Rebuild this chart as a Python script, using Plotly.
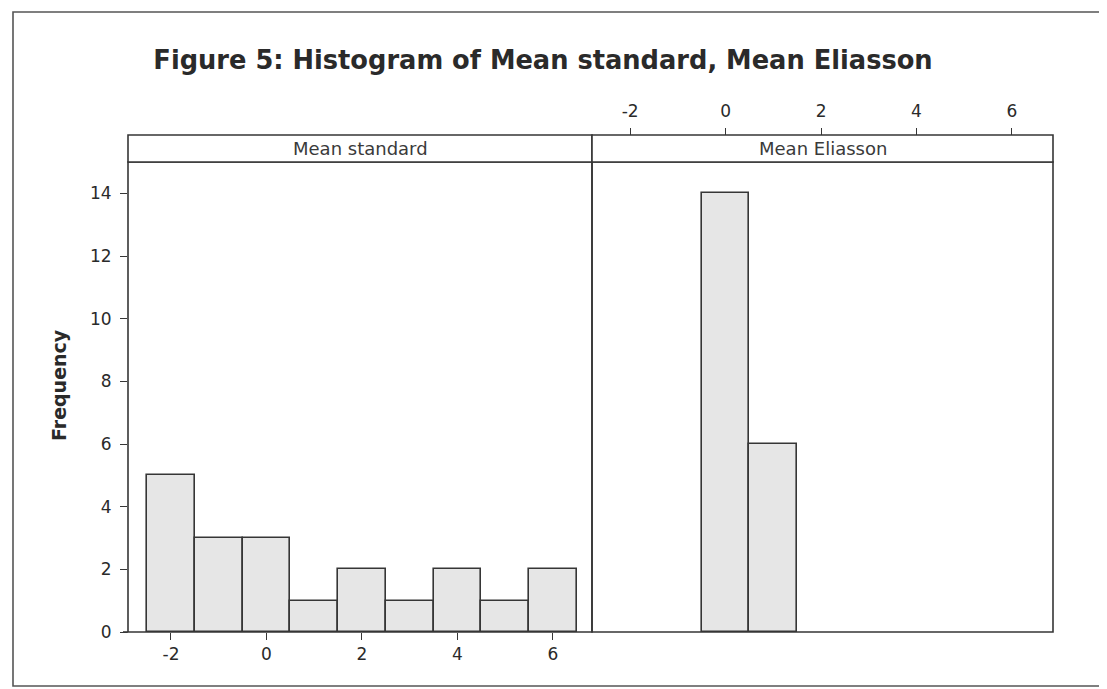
import plotly.graph_objects as go

# ---- data ----
bin_centers_standard = [-2, -1, 0, 1, 2, 3, 4, 5, 6]
counts_standard = [5, 3, 3, 1, 2, 1, 2, 1, 2]
bin_centers_eliasson = [0, 1]
counts_eliasson = [14, 6]
x_tick_values = [-2, 0, 2, 4, 6]
y_tick_values = [0, 2, 4, 6, 8, 10, 12, 14]
panel_titles = ["Mean standard", "Mean Eliasson"]
chart_title = "Figure 5: Histogram of Mean standard, Mean Eliasson"
y_title = "Frequency"

# page has an 8px body margin, so the figure is 8px smaller and shifted
OFF = 8
W, H = 1107 - OFF, 689 - OFF
ML, MR, MT, MB = 128 - OFF, 54, 135 - OFF, 57
plot_h = H - MT - MB
pw = W - ML - MR
strip_px = 27
y_dom_top = (plot_h - strip_px) / plot_h
split = 464 / pw

BAR_FILL = "#e6e6e6"
LINE = "#363636"
TXT = "#2a2a2a"
FONT = "DejaVu Sans"

fig = go.Figure()
fig.add_trace(go.Bar(x=bin_centers_standard, y=counts_standard, width=1,
                     marker=dict(color=BAR_FILL, line=dict(color=LINE, width=1.6)),
                     xaxis="x", yaxis="y", showlegend=False))
fig.add_trace(go.Bar(x=bin_centers_eliasson, y=counts_eliasson, width=1,
                     marker=dict(color=BAR_FILL, line=dict(color=LINE, width=1.6)),
                     xaxis="x2", yaxis="y2", showlegend=False))

tickfont = dict(family=FONT, size=17, color=TXT)
x_tick_text = [str(v) for v in x_tick_values]

fig.update_layout(
    width=W, height=H,
    margin=dict(l=ML, r=MR, t=MT, b=MB, pad=0),
    paper_bgcolor="white", plot_bgcolor="white",
    title=dict(text="<b>" + chart_title + "</b>", x=(543 - OFF) / W,
               y=1 - (60 - OFF) / H, xanchor="center", yanchor="middle",
               font=dict(family=FONT, size=25.7, color=TXT)),
    xaxis=dict(domain=[0, split], range=[-2.90, 6.82], tickvals=x_tick_values,
               ticktext=x_tick_text,
               ticks="outside", ticklen=7, tickcolor=LINE, tickwidth=1.2,
               showgrid=False, zeroline=False, showline=False,
               tickfont=tickfont, anchor="y"),
    yaxis=dict(domain=[0, y_dom_top], range=[0, 15], tickvals=y_tick_values,
               ticks="outside", ticklen=7, tickcolor=LINE, tickwidth=1.2,
               ticklabelstandoff=5,
               showgrid=False, zeroline=False, showline=False,
               tickfont=tickfont, anchor="x"),
    xaxis2=dict(domain=[split, 1], range=[-2.80, 6.86], tickvals=x_tick_values,
                ticktext=x_tick_text,
                side="top", anchor="free", position=1,
                ticks="outside", ticklen=7, tickcolor=LINE, tickwidth=1.2,
                ticklabelstandoff=4,
                showgrid=False, zeroline=False, showline=False,
                tickfont=tickfont),
    yaxis2=dict(domain=[0, y_dom_top], range=[0, 15], matches="y",
                showticklabels=False, ticks="", showgrid=False,
                zeroline=False, showline=False, anchor="x2"),
    bargap=0,
)

shapes = []
for x0, x1 in [(0, split), (split, 1)]:
    shapes.append(dict(type="rect", xref="paper", yref="paper", x0=x0, x1=x1,
                       y0=0, y1=y_dom_top, line=dict(color=LINE, width=1.6),
                       fillcolor="rgba(0,0,0,0)", layer="above"))
    shapes.append(dict(type="rect", xref="paper", yref="paper", x0=x0, x1=x1,
                       y0=y_dom_top, y1=1, line=dict(color=LINE, width=1.6),
                       fillcolor="white", layer="above"))
shapes.append(dict(type="line", xref="paper", yref="paper",
                   x0=-5 / pw, x1=0, y0=0, y1=0,
                   line=dict(color=LINE, width=1.6)))
# outer frame (page coords 13..1102 x 12..686)
shapes.append(dict(type="rect", xref="paper", yref="paper",
                   x0=(13 - OFF - ML) / pw, x1=(1102 - OFF - ML) / pw,
                   y0=(H - MB - (686 - OFF)) / plot_h,
                   y1=(H - MB - (12 - OFF)) / plot_h,
                   line=dict(color="#555555", width=1.6),
                   fillcolor="rgba(0,0,0,0)", layer="below"))
fig.update_layout(shapes=shapes)

annotations = []
for (x0, x1), txt in zip([(0, split), (split, 1)], panel_titles):
    annotations.append(dict(text=txt, xref="paper", yref="paper",
                            x=(x0 + x1) / 2, y=(y_dom_top + 1) / 2,
                            xanchor="center", yanchor="middle", showarrow=False,
                            font=dict(family=FONT, size=18, color="#3a3a3a")))
annotations.append(dict(text="<b>" + y_title + "</b>", xref="paper", yref="paper",
                        x=(59 - OFF - ML) / pw, y=(H - MB - (385 - OFF)) / plot_h,
                        xanchor="center", yanchor="middle", textangle=-90,
                        showarrow=False,
                        font=dict(family=FONT, size=19, color=TXT)))
fig.update_layout(annotations=annotations)

fig.write_html("out.html")
